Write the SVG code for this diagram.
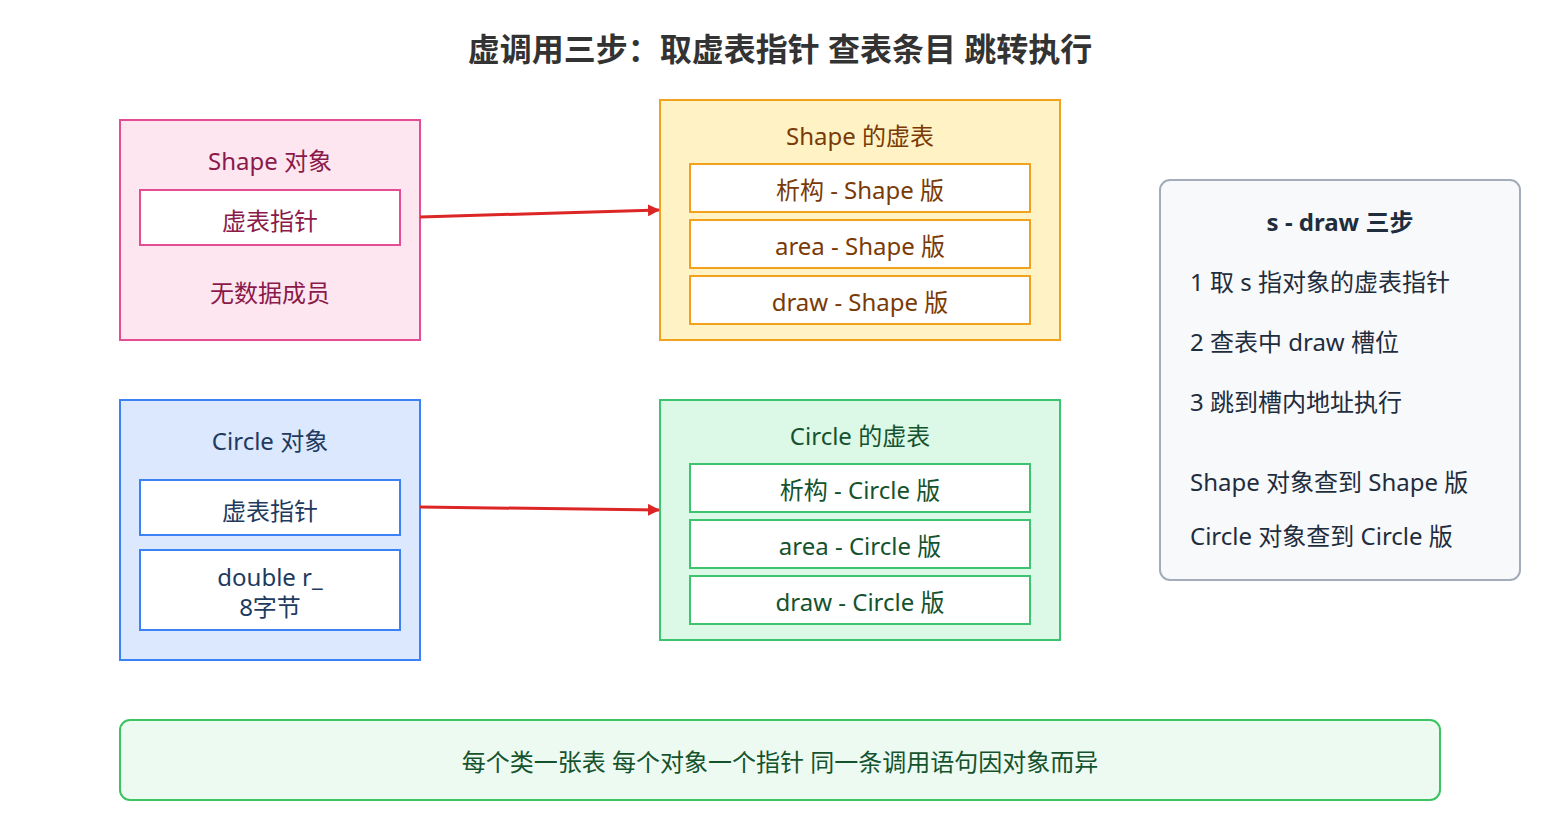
<svg xmlns="http://www.w3.org/2000/svg" width="1560" height="840" viewBox="0 0 1560 840">
<style>
text{font-family:"Noto Sans","Noto Sans CJK SC",sans-serif;text-anchor:middle;dominant-baseline:central}
.pk rect{fill:#fde6f0;stroke:#e44c93;stroke-width:2}
.pk text{fill:#8b1a4a;font-size:24px}
.ye rect{fill:#fff3c6;stroke:#f2a11c;stroke-width:2}
.ye text{fill:#7a3a06;font-size:24px}
.bl rect{fill:#dce8fd;stroke:#3b82f6;stroke-width:2}
.bl text{fill:#1e3a5f;font-size:24px}
.gr rect{fill:#dcf8e6;stroke:#3cc46e;stroke-width:2}
.gr text{fill:#14532d;font-size:24px}
.in{fill:#fff!important}
</style>
<defs><marker id="ar" markerWidth="12" markerHeight="12" refX="11" refY="6" orient="auto" markerUnits="userSpaceOnUse"><path d="M0,0L12,6L0,12z" fill="#dc2626"/></marker></defs>
<text x="780" y="48" style="font-size:32px;font-weight:bold;fill:#333">虚调用三步：取虚表指针 查表条目 跳转执行</text>
<g id="shape-obj" class="pk"><rect x="120" y="120" width="300" height="220"/><text x="270" y="160">Shape 对象</text><rect class="in" x="140" y="190" width="260" height="55"/><text x="270" y="220">虚表指针</text><text x="270" y="292">无数据成员</text></g>
<g id="shape-vt" class="ye"><rect x="660" y="100" width="400" height="240"/><text x="860" y="135">Shape 的虚表</text>
<rect class="in" x="690" y="164" width="340" height="48"/><text x="860" y="189">析构 - Shape 版</text>
<rect class="in" x="690" y="220" width="340" height="48"/><text x="860" y="245">area - Shape 版</text>
<rect class="in" x="690" y="276" width="340" height="48"/><text x="860" y="301">draw - Shape 版</text></g>
<g id="circle-obj" class="bl"><rect x="120" y="400" width="300" height="260"/><text x="270" y="440">Circle 对象</text><rect class="in" x="140" y="480" width="260" height="55"/><text x="270" y="510">虚表指针</text><rect class="in" x="140" y="550" width="260" height="80"/><text x="270" y="576">double r_</text><text x="270" y="606">8字节</text></g>
<g id="circle-vt" class="gr"><rect x="660" y="400" width="400" height="240"/><text x="860" y="435">Circle 的虚表</text>
<rect class="in" x="690" y="464" width="340" height="48"/><text x="860" y="489">析构 - Circle 版</text>
<rect class="in" x="690" y="520" width="340" height="48"/><text x="860" y="545">area - Circle 版</text>
<rect class="in" x="690" y="576" width="340" height="48"/><text x="860" y="601">draw - Circle 版</text></g>
<g id="steps"><rect x="1160" y="180" width="360" height="400" rx="10" fill="#f8f9fb" stroke="#a3adba" stroke-width="2"/>
<g style="font-size:24px;fill:#1f2d3d"><text x="1340" y="221" style="font-weight:bold">s - draw 三步</text>
<text x="1190" y="281" style="text-anchor:start">1 取 s 指对象的虚表指针</text>
<text x="1190" y="341" style="text-anchor:start">2 查表中 draw 槽位</text>
<text x="1190" y="401" style="text-anchor:start">3 跳到槽内地址执行</text>
<text x="1190" y="481" style="text-anchor:start">Shape 对象查到 Shape 版</text>
<text x="1190" y="535" style="text-anchor:start">Circle 对象查到 Circle 版</text></g></g>
<g id="note"><rect x="120" y="720" width="1320" height="80" rx="10" fill="#edfaf1" stroke="#3cc462" stroke-width="2"/><text x="780" y="761" style="font-size:24px;fill:#14532d">每个类一张表 每个对象一个指针 同一条调用语句因对象而异</text></g>
<g id="connectors" stroke="#dc2626" stroke-width="3" fill="none" marker-end="url(#ar)"><path d="M420,217L659,210"/><path d="M420,507L659,510"/></g>
</svg>
